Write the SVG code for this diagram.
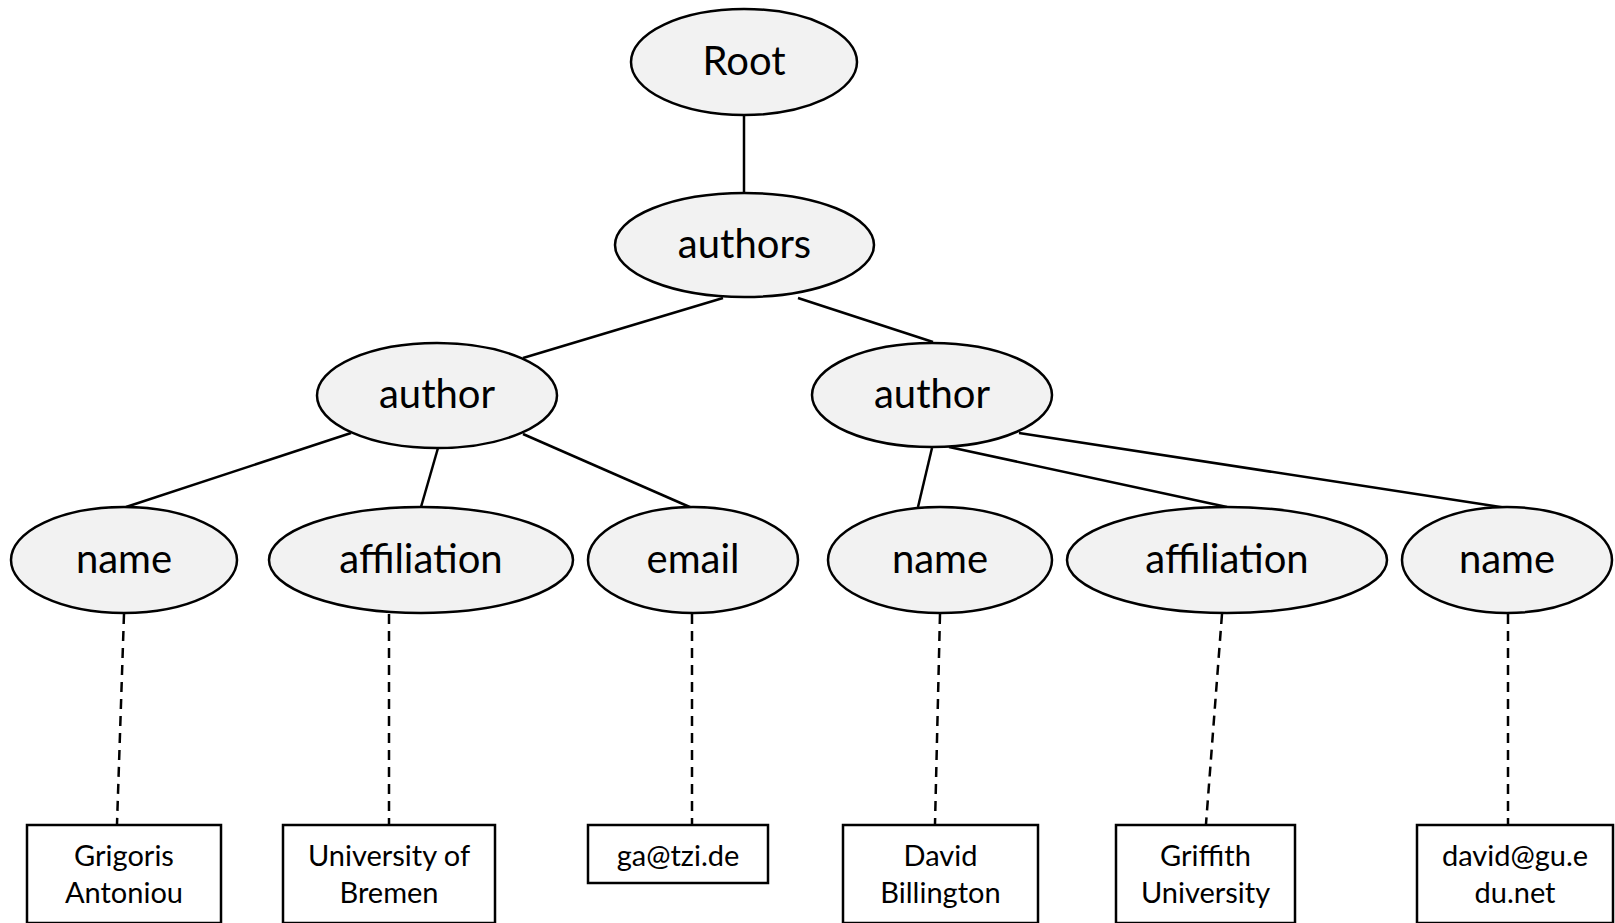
<svg xmlns="http://www.w3.org/2000/svg" width="1615" height="923" viewBox="0 0 1615 923">
<style>
.node ellipse{fill:#f2f2f2;stroke:#000;stroke-width:2.5}
.node text{font-family:Lato,"Liberation Sans",sans-serif;font-size:40px;text-anchor:middle;fill:#000}
.leaf rect{fill:#fff;stroke:#000;stroke-width:2.5}
.leaf text{font-family:Lato,"Liberation Sans",sans-serif;font-size:29px;text-anchor:middle;fill:#000}
.edge{stroke:#000;stroke-width:2.5;fill:none}
.dash{stroke:#000;stroke-width:2.5;fill:none;stroke-dasharray:10 7}
</style>
<rect width="1615" height="923" fill="#fff"/>
<g id="connectors">
<line class="edge" x1="744" y1="115" x2="744" y2="193"/>
<line class="edge" x1="723" y1="298" x2="523" y2="358"/>
<line class="edge" x1="798" y1="298" x2="933" y2="342"/>
<line class="edge" x1="351" y1="433" x2="126" y2="507"/>
<line class="edge" x1="438" y1="448" x2="421" y2="507"/>
<line class="edge" x1="523" y1="434" x2="692" y2="508"/>
<line class="edge" x1="932" y1="448" x2="918" y2="507"/>
<line class="edge" x1="949" y1="447" x2="1227" y2="507"/>
<line class="edge" x1="1019" y1="433" x2="1507" y2="508"/>
<line class="dash" x1="124" y1="614" x2="117" y2="824"/>
<line class="dash" x1="389" y1="614" x2="389" y2="824"/>
<line class="dash" x1="692" y1="614" x2="692" y2="824"/>
<line class="dash" x1="940" y1="614" x2="935" y2="824"/>
<line class="dash" x1="1222" y1="614" x2="1206" y2="824"/>
<line class="dash" x1="1508" y1="614" x2="1508" y2="824"/>
</g>
<g id="root" class="node"><ellipse cx="744" cy="62" rx="113" ry="53"/><text x="744" y="75">Root</text></g>
<g id="authors" class="node"><ellipse cx="744.5" cy="245" rx="129.5" ry="52"/><text x="744.5" y="258">authors</text></g>
<g id="author1" class="node"><ellipse cx="437" cy="395.5" rx="120" ry="52.5"/><text x="437" y="408">author</text></g>
<g id="author2" class="node"><ellipse cx="932" cy="395" rx="120" ry="52"/><text x="932" y="408">author</text></g>
<g id="name1" class="node"><ellipse cx="124" cy="560" rx="113" ry="53"/><text x="124" y="573">name</text></g>
<g id="affiliation1" class="node"><ellipse cx="421" cy="560" rx="152" ry="53"/><text x="421" y="573">affiliation</text></g>
<g id="email1" class="node"><ellipse cx="693" cy="560" rx="105" ry="53"/><text x="693" y="573">email</text></g>
<g id="name2" class="node"><ellipse cx="940" cy="560" rx="112" ry="53"/><text x="940" y="573">name</text></g>
<g id="affiliation2" class="node"><ellipse cx="1227" cy="560" rx="160" ry="53"/><text x="1227" y="573">affiliation</text></g>
<g id="name3" class="node"><ellipse cx="1507" cy="560" rx="105" ry="53"/><text x="1507" y="573">name</text></g>
<g id="leaf1" class="leaf"><rect x="27" y="825" width="194" height="98"/><text x="124" y="866">Grigoris</text><text x="124" y="903">Antoniou</text></g>
<g id="leaf2" class="leaf"><rect x="283" y="825" width="212" height="98"/><text x="389" y="866">University of</text><text x="389" y="903">Bremen</text></g>
<g id="leaf3" class="leaf"><rect x="588" y="825" width="180" height="58"/><text x="678" y="866">ga@tzi.de</text></g>
<g id="leaf4" class="leaf"><rect x="843" y="825" width="195" height="98"/><text x="940.5" y="866">David</text><text x="940.5" y="903">Billington</text></g>
<g id="leaf5" class="leaf"><rect x="1116" y="825" width="179" height="98"/><text x="1205.5" y="866">Griffith</text><text x="1205.5" y="903">University</text></g>
<g id="leaf6" class="leaf"><rect x="1417" y="825" width="196" height="98"/><text x="1515" y="866">david@gu.e</text><text x="1515" y="903">du.net</text></g>
</svg>
